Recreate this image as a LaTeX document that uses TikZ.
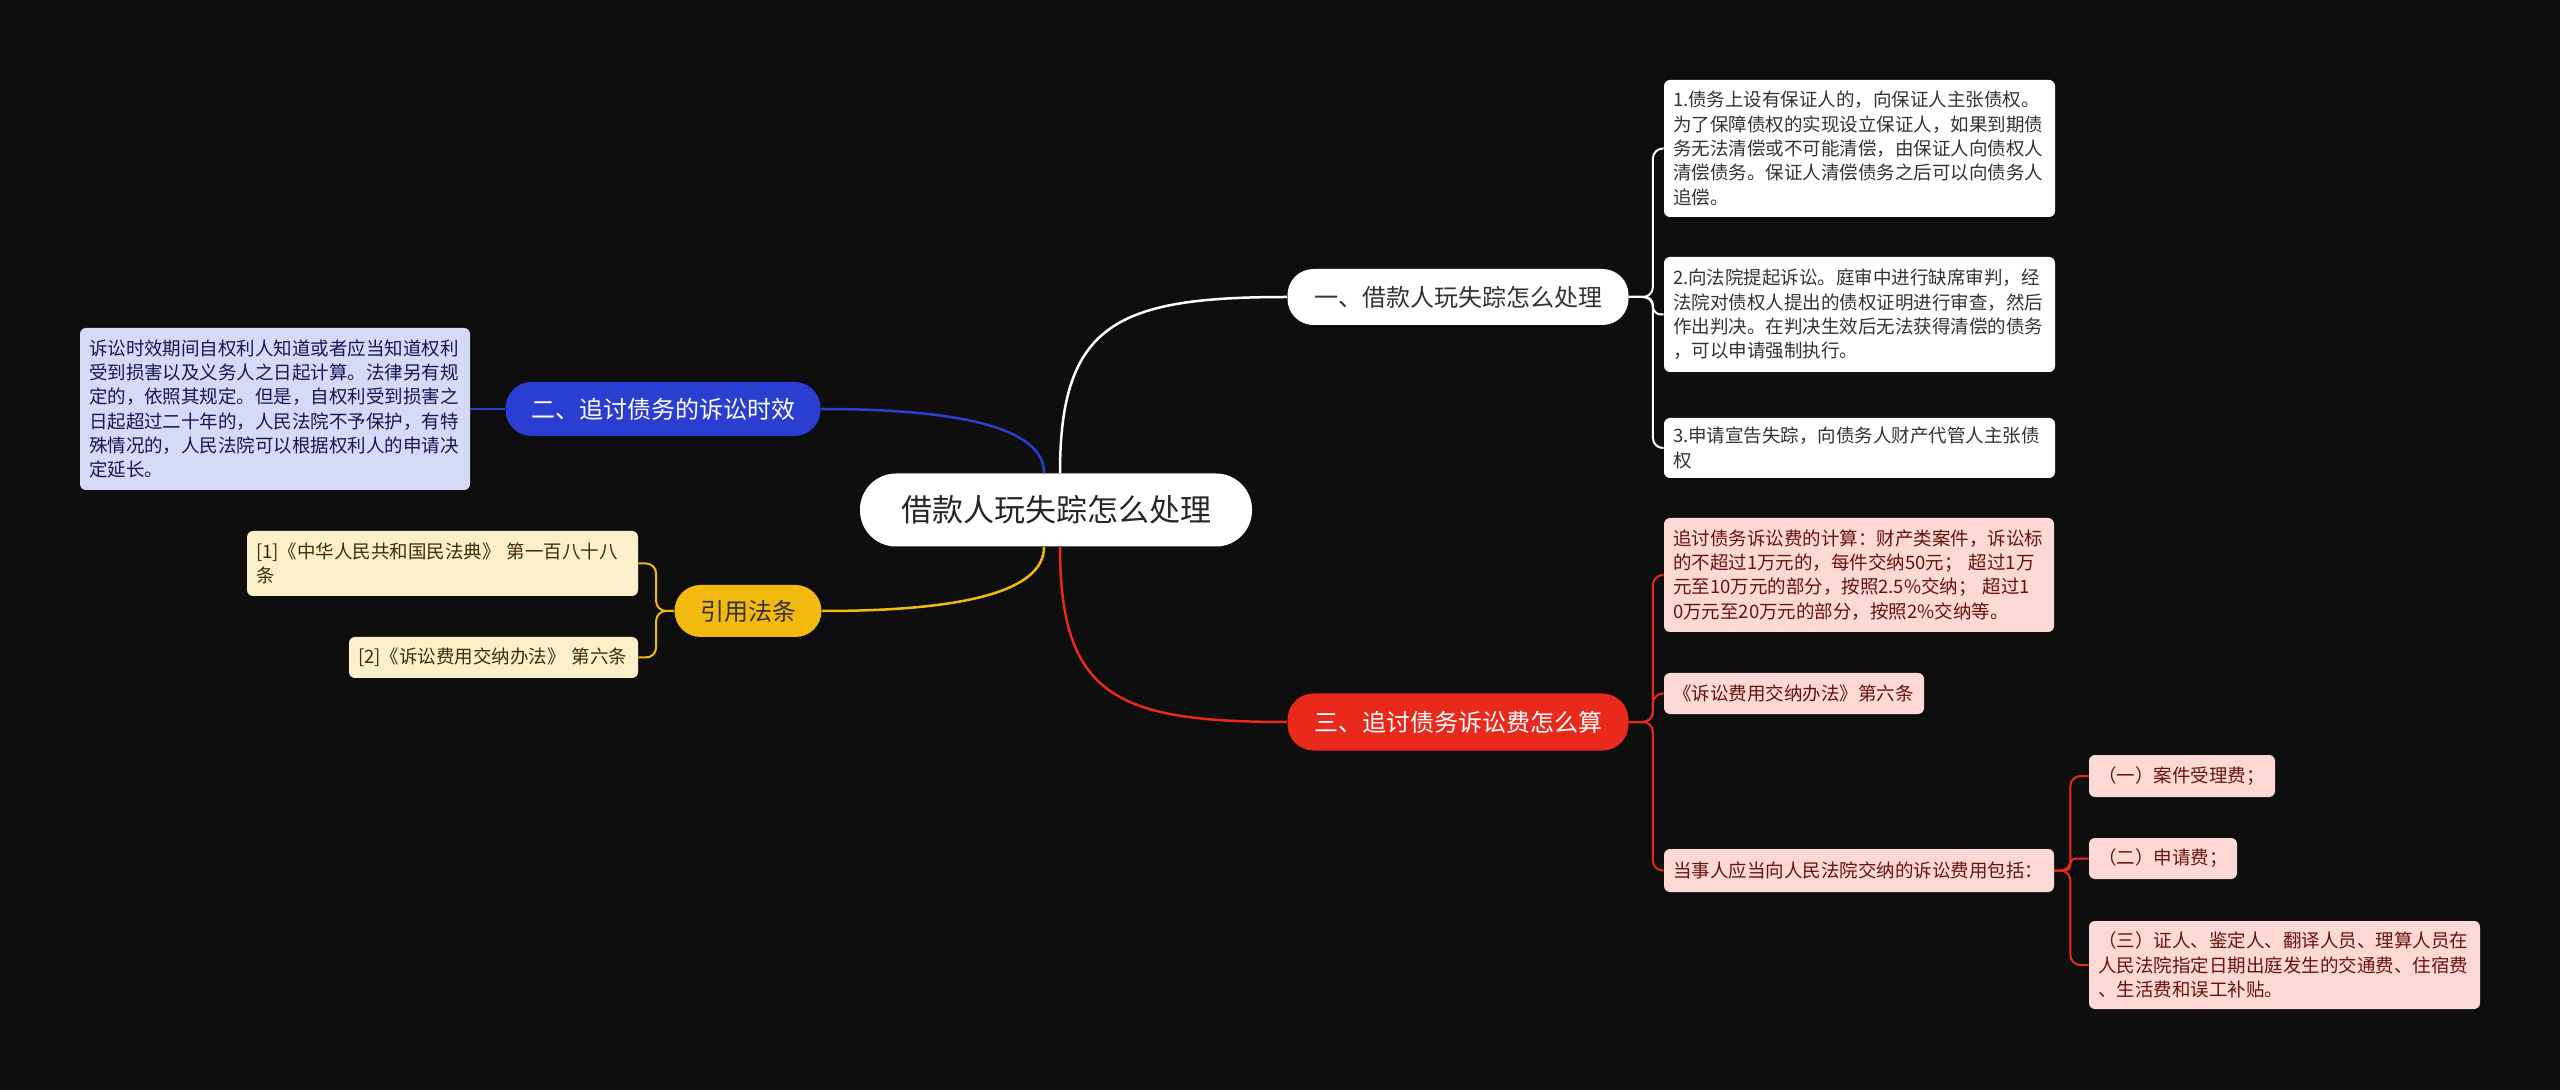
\documentclass[tikz,border=0pt]{standalone}
\usepackage{fontspec}
\setmainfont{Noto Sans CJK SC}
\definecolor{bgcol}{HTML}{0E0E0E}
\definecolor{bluecol}{HTML}{2A3ED2}
\definecolor{yellowcol}{HTML}{F2B90F}
\definecolor{redcol}{HTML}{E8291C}
\definecolor{bluefill}{HTML}{D6DAF6}
\definecolor{yellowfill}{HTML}{FCF0CA}
\definecolor{redfill}{HTML}{FDD9D5}
\begin{document}
\begin{tikzpicture}[x=0.5pt,y=-0.5pt,
  pill/.style={rounded corners=13pt,minimum height=28pt,font=\fontsize{12pt}{14pt}\selectfont},
  leaf/.style={rounded corners=3pt,inner xsep=4.5pt,inner ysep=0pt,align=left,font=\fontsize{9.25pt}{12.15pt}\selectfont},
  wleaf/.style={leaf,fill=white,text=black!80},
  bleaf/.style={leaf,fill=bluefill,text=bluecol!40!black},
  yleaf/.style={leaf,fill=yellowfill,text=yellowcol!25!black},
  rleaf/.style={leaf,fill=redfill,text=redcol!45!black},
  link/.style={line width=1.25pt},
  twig/.style={line width=1pt,rounded corners=5pt}]
\fill[bgcol] (0,0) rectangle (2560,1090);
\useasboundingbox (0,0) rectangle (2560,1090);

\node[fill=white,text=black!85,rounded corners=18pt,minimum width=196pt,minimum height=36.5pt,font=\fontsize{15.5pt}{18pt}\selectfont] (root) at (1056,510) {借款人玩失踪怎么处理};

\node[pill,fill=white,text=black!80,minimum width=170.5pt] (b1) at (1458,297) {一、借款人玩失踪怎么处理};
\node[pill,fill=bluecol,text=white,minimum width=157.5pt,minimum height=27pt] (b2) at (663,409) {二、追讨债务的诉讼时效};
\node[pill,fill=yellowcol,text=black!80,minimum width=73.5pt,minimum height=26pt] (b3) at (748,611) {引用法条};
\node[pill,fill=redcol,text=white,minimum width=170.5pt,minimum height=28.5pt] (b4) at (1458,722) {三、追讨债务诉讼费怎么算};

\node[wleaf,text width=186.5pt,minimum height=68.5pt] (l11) at (1859.5,148.5) {1.债务上设有保证人的，向保证人主张债权。\\为了保障债权的实现设立保证人，如果到期债\\务无法清偿或不可能清偿，由保证人向债权人\\清偿债务。保证人清偿债务之后可以向债务人\\追偿。};
\node[wleaf,text width=186.5pt,minimum height=57.5pt] (l12) at (1859.5,314.5) {2.向法院提起诉讼。庭审中进行缺席审判，经\\法院对债权人提出的债权证明进行审查，然后\\作出判决。在判决生效后无法获得清偿的债务\\，可以申请强制执行。};
\node[wleaf,text width=186.5pt,minimum height=30pt] (l13) at (1859.5,448) {3.申请宣告失踪，向债务人财产代管人主张债\\权};

\node[bleaf,text width=186pt,minimum height=81pt] (l21) at (275,409) {诉讼时效期间自权利人知道或者应当知道权利\\受到损害以及义务人之日起计算。法律另有规\\定的，依照其规定。但是，自权利受到损害之\\日起超过二十年的，人民法院不予保护，有特\\殊情况的，人民法院可以根据权利人的申请决\\定延长。};

\node[yleaf,text width=186.5pt,minimum height=32.5pt] (l31) at (442.5,563.5) {[1]《中华人民共和国民法典》 第一百八十八\\条};
\node[yleaf,text width=135.5pt,minimum height=20.5pt] (l32) at (493.5,657.5) {[2]《诉讼费用交纳办法》 第六条};

\node[rleaf,text width=186pt,minimum height=57pt] (l41) at (1859,575) {追讨债务诉讼费的计算：财产类案件，诉讼标\\的不超过1万元的，每件交纳50元； 超过1万\\元至10万元的部分，按照2.5\%交纳； 超过1\\0万元至20万元的部分，按照2\%交纳等。};
\node[rleaf,text width=121pt,minimum height=20.5pt] (l42) at (1794,693.5) {《诉讼费用交纳办法》第六条};
\node[rleaf,text width=186pt,minimum height=21.5pt] (l43) at (1859,870.5) {当事人应当向人民法院交纳的诉讼费用包括：};

\node[rleaf,text width=84pt,minimum height=21pt] (l51) at (2182,776) {（一）案件受理费；};
\node[rleaf,text width=65pt,minimum height=20.5pt] (l52) at (2163,858.5) {（二）申请费；};
\node[rleaf,text width=186.5pt,minimum height=44pt] (l53) at (2284.5,965) {（三）证人、鉴定人、翻译人员、理算人员在\\人民法院指定日期出庭发生的交通费、住宿费\\、生活费和误工补贴。};

\draw[link,white] ([xshift=2pt]root.north) .. controls +(0,-150) and +(-170,0) .. (b1.west);
\draw[link,bluecol] ([xshift=-6pt]root.north) .. controls +(0,-45) and +(140,0) .. (b2.east);
\draw[link,yellowcol] ([xshift=-6pt]root.south) .. controls +(0,45) and +(140,0) .. (b3.east);
\draw[link,redcol] ([xshift=2pt]root.south) .. controls +(0,150) and +(-170,0) .. (b4.west);

\coordinate (j1) at ([xshift=12pt]b1.east);
\draw[twig,white] (b1.east) -- (j1) |- (l11.west);
\draw[twig,white,rounded corners=4pt] (b1.east) -- (j1) |- (l12.west);
\draw[twig,white] (b1.east) -- (j1) |- (l13.west);

\draw[link,bluecol] (b2.west) -- (l21.east);

\coordinate (j4) at ([xshift=-9pt]b3.west);
\draw[twig,yellowcol] (b3.west) -- (j4) |- (l31.east);
\draw[twig,yellowcol] (b3.west) -- (j4) |- (l32.east);

\coordinate (j2) at ([xshift=12pt]b4.east);
\draw[twig,redcol] (b4.east) -- (j2) |- (l41.west);
\draw[twig,redcol] (b4.east) -- (j2) |- (l42.west);
\draw[twig,redcol] (b4.east) -- (j2) |- (l43.west);

\coordinate (j3) at ([xshift=8pt]l43.east);
\draw[twig,redcol] (l43.east) -- (j3) |- (l51.west);
\draw[twig,redcol,rounded corners=2.5pt] (l43.east) -- (j3) |- (l52.west);
\draw[twig,redcol] (l43.east) -- (j3) |- (l53.west);
\end{tikzpicture}
\end{document}
